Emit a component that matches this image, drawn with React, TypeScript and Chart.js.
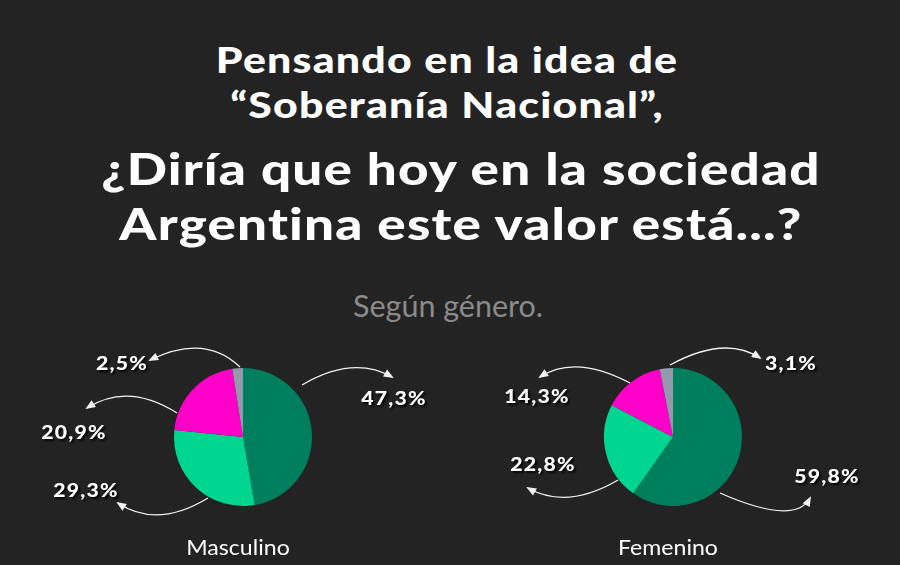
import React, { useEffect, useRef } from "react";
import { Chart, registerables } from "chart.js";

Chart.register(...registerables);

const categories = ["Positivo", "Regular", "Negativo", "Ns/Nc"];
const masculinoValues = [47.3, 29.3, 20.9, 2.5];
const femeninoValues = [59.8, 22.8, 14.3, 3.1];
const sliceColors = ["#007F5F", "#00D68F", "#FF00C8", "#9499AE"];
const groupLabels = ["Masculino", "Femenino"];

// annotation geometry relative to pie centre (style, not data)
type Note = { p0: [number, number]; c: [number, number]; p2: [number, number]; label: [number, number] };
const masculinoNotes: Note[] = [
  { p0: [59, -52], c: [110, -82], p2: [149, -60], label: [151, -38] },
  { p0: [-35, 61], c: [-86, 92], p2: [-125, 66], label: [-157, 54] },
  { p0: [-66, -24], c: [-115, -55], p2: [-156, -29], label: [-169, -4] },
  { p0: [-3, -70], c: [-38, -104], p2: [-93, -77], label: [-121, -73] },
];
const femeninoNotes: Note[] = [
  { p0: [47, 56], c: [122, 89], p2: [137, 61], label: [154, 40] },
  { p0: [-55, 43], c: [-106, 73], p2: [-145, 51], label: [-130, 28] },
  { p0: [-43, -54], c: [-98, -83], p2: [-133, -60], label: [-136, -40] },
  { p0: [-3, -72], c: [52, -102], p2: [87, -79], label: [118, -73] },
];

const fmt = (v: number) => v.toFixed(1).replace(".", ",") + "%";

function makeNotesPlugin(notes: Note[]) {
  return {
    id: "notes",
    afterDraw(chart: any) {
      const meta = chart.getDatasetMeta(0);
      const arc = meta.data[0];
      if (!arc) return;
      const cx = arc.x;
      const cy = arc.y;
      const ctx = chart.ctx;
      const values = chart.data.datasets[0].data as number[];
      ctx.save();
      notes.forEach((n, i) => {
        const x0 = cx + n.p0[0], y0 = cy + n.p0[1];
        const xc = cx + n.c[0], yc = cy + n.c[1];
        const x2 = cx + n.p2[0], y2 = cy + n.p2[1];
        ctx.strokeStyle = "#f2f2f2";
        ctx.lineWidth = 1.3;
        ctx.beginPath();
        ctx.moveTo(x0, y0);
        ctx.quadraticCurveTo(xc, yc, x2, y2);
        ctx.stroke();
        const ang = Math.atan2(y2 - yc, x2 - xc);
        const L = 8, W = 4;
        ctx.fillStyle = "#f2f2f2";
        ctx.beginPath();
        ctx.moveTo(x2 + Math.cos(ang) * 2, y2 + Math.sin(ang) * 2);
        ctx.lineTo(x2 - Math.cos(ang) * L + Math.sin(ang) * W, y2 - Math.sin(ang) * L - Math.cos(ang) * W);
        ctx.lineTo(x2 - Math.cos(ang) * L - Math.sin(ang) * W, y2 - Math.sin(ang) * L + Math.cos(ang) * W);
        ctx.closePath();
        ctx.fill();

        ctx.save();
        ctx.translate(cx + n.label[0], cy + n.label[1]);
        ctx.scale(1.18, 1);
        ctx.font = "900 18px Lato";
        try {
          (ctx as any).letterSpacing = "1px";
        } catch (e) {}
        ctx.textAlign = "center";
        ctx.textBaseline = "middle";
        ctx.shadowColor = "rgba(0,0,0,0.85)";
        ctx.shadowOffsetX = 2;
        ctx.shadowOffsetY = 2;
        ctx.shadowBlur = 2;
        ctx.fillStyle = "#ffffff";
        ctx.fillText(fmt(values[i]), 0, 0);
        ctx.restore();
      });
      ctx.restore();
    },
  };
}

function PieCanvas({ values, notes, padding }: { values: number[]; notes: Note[]; padding: any }) {
  const ref = useRef<HTMLCanvasElement>(null);
  useEffect(() => {
    if (!ref.current) return;
    const chart = new Chart(ref.current, {
      type: "pie",
      data: {
        labels: categories,
        datasets: [
          {
            data: values,
            backgroundColor: sliceColors,
            borderWidth: 0,
          },
        ],
      },
      options: {
        responsive: false,
        animation: false,
        layout: { padding },
        plugins: { legend: { display: false }, tooltip: { enabled: false }, title: { display: false } },
      },
      plugins: [makeNotesPlugin(notes)],
    });
    return () => chart.destroy();
  }, []);
  return (
    <canvas
      ref={ref}
      width={900}
      height={565}
      style={{ position: "absolute", left: 0, top: 0, width: 900, height: 565 }}
    />
  );
}

export default function App() {
  useEffect(() => {
    document.body.style.margin = "0";
    document.body.style.background = "#232323";
  }, []);
  const titleStyle: React.CSSProperties = {
    position: "absolute",
    width: 900,
    textAlign: "center",
    color: "#ffffff",
    fontFamily: "Lato, sans-serif",
    fontWeight: 900,
    whiteSpace: "nowrap",
    transformOrigin: "center",
  };
  const groupStyle: React.CSSProperties = {
    position: "absolute",
    width: 200,
    top: 534,
    textAlign: "center",
    color: "#fff",
    fontFamily: "Lato, sans-serif",
    fontSize: 21,
    lineHeight: "26px",
    transform: "scaleX(1.1)",
    transformOrigin: "center",
  };
  return (
    <div style={{ position: "relative", width: 900, height: 565, background: "#232323", overflow: "hidden" }}>
      <div
        style={{
          ...titleStyle,
          left: -3,
          top: 37,
          fontSize: 36,
          lineHeight: "45px",
          letterSpacing: "1px",
          transform: "scaleX(1.19)",
        }}
      >
        Pensando en la idea de
        <br />
        “Soberanía Nacional”,
      </div>
      <div
        style={{
          ...titleStyle,
          left: 11,
          top: 140,
          fontSize: 44.5,
          lineHeight: "55px",
          letterSpacing: "1px",
          transform: "scaleX(1.19)",
        }}
      >
        ¿Diría que hoy en la sociedad
        <br />
        Argentina este valor está...?
      </div>
      <div
        style={{
          ...titleStyle,
          left: -2,
          top: 287,
          fontSize: 30.5,
          lineHeight: "36px",
          fontWeight: 400,
          color: "#8a8a8a",
        }}
      >
        Según género.
      </div>
      <PieCanvas
        values={masculinoValues}
        notes={masculinoNotes}
        padding={{ left: 174, right: 900 - 312, top: 368, bottom: 565 - 506 }}
      />
      <PieCanvas
        values={femeninoValues}
        notes={femeninoNotes}
        padding={{ left: 604, right: 900 - 742, top: 368, bottom: 565 - 506 }}
      />
      <div style={{ ...groupStyle, left: 138 }}>{groupLabels[0]}</div>
      <div style={{ ...groupStyle, left: 568 }}>{groupLabels[1]}</div>
    </div>
  );
}
